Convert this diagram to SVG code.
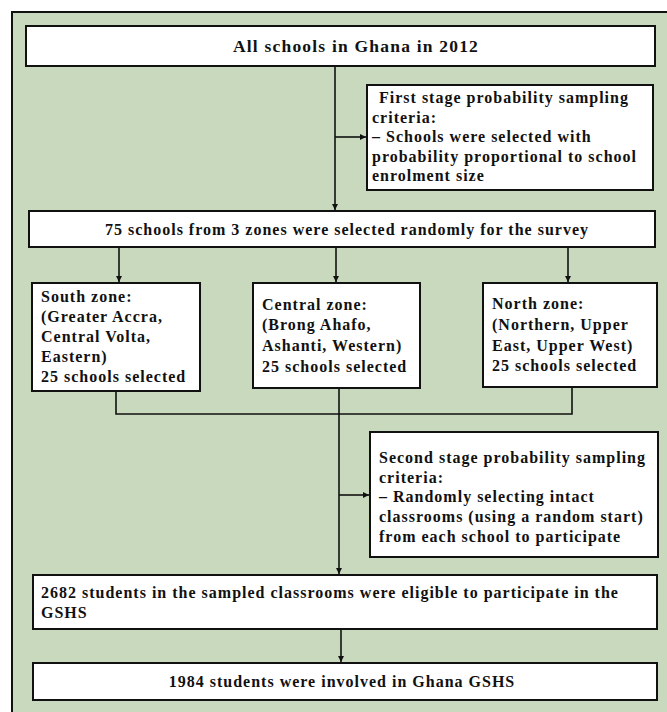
<svg xmlns="http://www.w3.org/2000/svg" width="667" height="712" viewBox="0 0 667 712">
<defs>
<marker id="ah" viewBox="0 0 8 8" refX="8" refY="4" markerWidth="6" markerHeight="6" markerUnits="userSpaceOnUse" orient="auto">
<path d="M0,0 L8,4 L0,8 z" fill="#111"/>
</marker>
<style>
.bg{fill:#c9d9bd;stroke:#111;stroke-width:2}
.box{fill:#fff;stroke:#111;stroke-width:2}
.t{font-family:"Liberation Serif",serif;font-weight:bold;font-size:16px;letter-spacing:1px;fill:#111}
.c{text-anchor:middle}
.ttl{font-size:17.5px;letter-spacing:1.2px}
.ln{fill:none;stroke:#111;stroke-width:1.6}
.ar{fill:none;stroke:#111;stroke-width:1.6;marker-end:url(#ah)}
</style>
</defs>
<rect class="bg" x="12" y="12" width="670" height="720"/>
<g id="connectors">
<line class="ln" x1="335" y1="66" x2="335" y2="137"/>
<line class="ar" x1="335" y1="137" x2="366" y2="137"/>
<line class="ar" x1="335" y1="137" x2="335" y2="210"/>
<line class="ar" x1="119" y1="247" x2="119" y2="282"/>
<line class="ar" x1="336" y1="247" x2="336" y2="282"/>
<line class="ar" x1="568" y1="247" x2="568" y2="282"/>
<polyline class="ln" points="116,391 116,414 572,414 572,387"/>
<line class="ln" x1="339" y1="388" x2="339" y2="495"/>
<line class="ar" x1="339" y1="495" x2="369" y2="495"/>
<line class="ar" x1="339" y1="495" x2="339" y2="574"/>
<line class="ar" x1="341" y1="629" x2="341" y2="662"/>
</g>
<g id="n1">
<rect class="box" x="26" y="26" width="629" height="40"/>
<text class="t c ttl" x="356" y="52">All schools in Ghana in 2012</text>
</g>
<g id="n2">
<rect class="box" x="367" y="85" width="286" height="105"/>
<text class="t" x="379" y="103">First stage probability sampling</text>
<text class="t" x="372" y="122.5">criteria:</text>
<text class="t" x="372" y="142">– Schools were selected with</text>
<text class="t" x="372" y="161.5">probability proportional to school</text>
<text class="t" x="372" y="181">enrolment size</text>
</g>
<g id="n3">
<rect class="box" x="29" y="211" width="626" height="36"/>
<text class="t c" x="347" y="235">75 schools from 3 zones were selected randomly for the survey</text>
</g>
<g id="n4">
<rect class="box" x="32" y="283" width="168" height="108"/>
<text class="t" x="41" y="302">South zone:</text>
<text class="t" x="41" y="322">(Greater Accra,</text>
<text class="t" x="41" y="342">Central Volta,</text>
<text class="t" x="41" y="362">Eastern)</text>
<text class="t" x="41" y="382">25 schools selected</text>
</g>
<g id="n5">
<rect class="box" x="253" y="283" width="167" height="105"/>
<text class="t" x="262" y="310">Central zone:</text>
<text class="t" x="262" y="330">(Brong Ahafo,</text>
<text class="t" x="262" y="351">Ashanti, Western)</text>
<text class="t" x="262" y="372">25 schools selected</text>
</g>
<g id="n6">
<rect class="box" x="483" y="283" width="174" height="104"/>
<text class="t" x="492" y="309">North zone:</text>
<text class="t" x="492" y="330">(Northern, Upper</text>
<text class="t" x="492" y="351">East, Upper West)</text>
<text class="t" x="492" y="371">25 schools selected</text>
</g>
<g id="n7">
<rect class="box" x="370" y="432" width="288" height="125"/>
<text class="t" x="379" y="463">Second stage probability sampling</text>
<text class="t" x="379" y="483">criteria:</text>
<text class="t" x="379" y="502">– Randomly selecting intact</text>
<text class="t" x="379" y="522">classrooms (using a random start)</text>
<text class="t" x="379" y="542">from each school to participate</text>
</g>
<g id="n8">
<rect class="box" x="33" y="575" width="624" height="54"/>
<text class="t" x="41" y="598">2682 students in the sampled classrooms were eligible to participate in the</text>
<text class="t" x="41" y="618">GSHS</text>
</g>
<g id="n9">
<rect class="box" x="33" y="663" width="624" height="37"/>
<text class="t c" x="342" y="687">1984 students were involved in Ghana GSHS</text>
</g>
</svg>
